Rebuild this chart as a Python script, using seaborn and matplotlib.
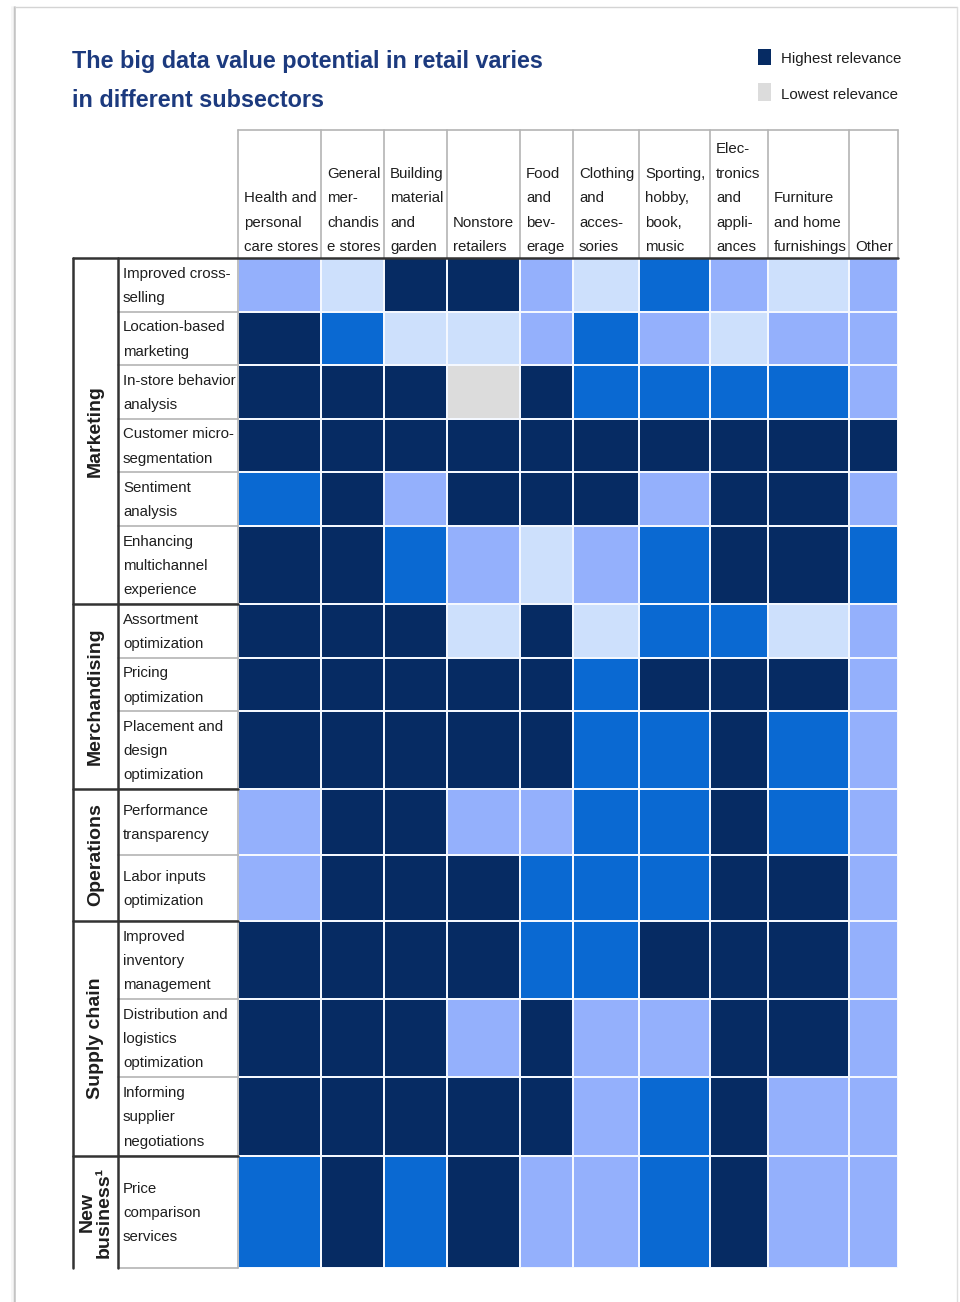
import numpy as np
import matplotlib
matplotlib.use("Agg")
import matplotlib.pyplot as plt
from matplotlib.colors import ListedColormap
from matplotlib.patches import Rectangle
from matplotlib import font_manager
import pandas as pd
import seaborn as sns

# ---------------------------------------------------------------- data
subsectors = [
    "Health and\npersonal\ncare stores",
    "General\nmer-\nchandis\ne stores",
    "Building\nmaterial\nand\ngarden",
    "Nonstore\nretailers",
    "Food\nand\nbev-\nerage",
    "Clothing\nand\nacces-\nsories",
    "Sporting,\nhobby,\nbook,\nmusic",
    "Elec-\ntronics\nand\nappli-\nances",
    "Furniture\nand home\nfurnishings",
    "Other",
]

levers = [
    "Improved cross-\nselling",
    "Location-based\nmarketing",
    "In-store behavior\nanalysis",
    "Customer micro-\nsegmentation",
    "Sentiment\nanalysis",
    "Enhancing\nmultichannel\nexperience",
    "Assortment\noptimization",
    "Pricing\noptimization",
    "Placement and\ndesign\noptimization",
    "Performance\ntransparency",
    "Labor inputs\noptimization",
    "Improved\ninventory\nmanagement",
    "Distribution and\nlogistics\noptimization",
    "Informing\nsupplier\nnegotiations",
    "Price\ncomparison\nservices",
]

lever_groups = ["Marketing", "Merchandising", "Operations", "Supply chain", "New\nbusiness\u00b9"]
group_sizes = [6, 3, 2, 3, 1]

# relevance score: 0 = lowest ... 4 = highest
relevance = [
    [2, 1, 4, 4, 2, 1, 3, 2, 1, 2],
    [4, 3, 1, 1, 2, 3, 2, 1, 2, 2],
    [4, 4, 4, 0, 4, 3, 3, 3, 3, 2],
    [4, 4, 4, 4, 4, 4, 4, 4, 4, 4],
    [3, 4, 2, 4, 4, 4, 2, 4, 4, 2],
    [4, 4, 3, 2, 1, 2, 3, 4, 4, 3],
    [4, 4, 4, 1, 4, 1, 3, 3, 1, 2],
    [4, 4, 4, 4, 4, 3, 4, 4, 4, 2],
    [4, 4, 4, 4, 4, 3, 3, 4, 3, 2],
    [2, 4, 4, 2, 2, 3, 3, 4, 3, 2],
    [2, 4, 4, 4, 3, 3, 3, 4, 4, 2],
    [4, 4, 4, 4, 3, 3, 4, 4, 4, 2],
    [4, 4, 4, 2, 4, 2, 2, 4, 4, 2],
    [4, 4, 4, 4, 4, 2, 3, 4, 2, 2],
    [3, 4, 3, 4, 2, 2, 3, 4, 2, 2],
]

legend_labels = ["Highest relevance", "Lowest relevance"]
title_text = "The big data value potential in retail varies\nin different subsectors"

# ---------------------------------------------------------------- style
level_colors = ["#dcdcdc", "#cde0fc", "#94b0fc", "#0a69d2", "#062b63"]
title_color = "#1c3a7e"
text_color = "#1e1e1e"

sns.set_theme(style="white")
installed = {f.name for f in font_manager.fontManager.ttflist}
families = [f for f in ["Liberation Sans Narrow", "Liberation Sans"] if f in installed]
plt.rcParams["font.family"] = families + ["DejaVu Sans"]

body_size = 10.8
body_spacing = 1.95

# ---------------------------------------------------------------- layout (pixels)
W, H = 960, 1302
col_px = [83, 63, 63, 73, 53, 66, 71, 58, 81, 49]
row_px = [54, 53, 54, 53, 54, 78, 54, 53, 78, 66, 66, 78, 78, 79, 112]
grid_left, grid_top = 238, 258
group_left, label_left = 73, 118
header_top = 130

x_edges = grid_left + np.concatenate([[0], np.cumsum(col_px)])
y_edges = grid_top + np.concatenate([[0], np.cumsum(row_px)])
grid_right, grid_bottom = x_edges[-1], y_edges[-1]

fig = plt.figure(figsize=(W / 100, H / 100), dpi=100)
fig.patch.set_facecolor("white")

# ---------------------------------------------------------------- heatmap
ax = fig.add_axes([grid_left / W, 1 - grid_bottom / H,
                   (grid_right - grid_left) / W, (grid_bottom - grid_top) / H])
df = pd.DataFrame(relevance, index=levers, columns=subsectors)
sns.heatmap(df, ax=ax, cmap=ListedColormap(level_colors), vmin=-0.5, vmax=4.5,
            cbar=False, linewidths=1.3, linecolor="#f4f8ff",
            xticklabels=False, yticklabels=False)

# cells have individual widths / heights: map cell index -> pixel offset
xi = np.arange(len(col_px) + 1)
xo = np.concatenate([[0], np.cumsum(col_px)]).astype(float)
yi = np.arange(len(row_px) + 1)
yo = np.concatenate([[0], np.cumsum(row_px)]).astype(float)
ax.set_xscale("function", functions=(lambda v: np.interp(v, xi, xo),
                                     lambda p: np.interp(p, xo, xi)))
ax.set_yscale("function", functions=(lambda v: np.interp(v, yi, yo),
                                     lambda p: np.interp(p, yo, yi)))
ax.set_xlim(0, len(col_px))
ax.set_ylim(len(row_px), 0)
ax.set_axis_off()

# ---------------------------------------------------------------- overlay in pixel coordinates
ov = fig.add_axes([0, 0, 1, 1])
ov.set_xlim(0, W)
ov.set_ylim(H, 0)
ov.set_axis_off()

# page frame with a soft shadow
for off, a in [(0, 0.55), (1.5, 0.25), (3, 0.10)]:
    ov.plot([15 - off, 15 - off], [7, H], color="#9a9a9a", alpha=a, lw=1.2)
ov.plot([15, 957], [7, 7], color="#d4d4d4", lw=1.0)
ov.plot([957, 957], [7, H], color="#dedede", lw=1.0)

# title
for k, line in enumerate(title_text.split("\n")):
    ov.text(72, 68 + 39 * k, line, color=title_color, fontsize=16.8,
            fontweight="bold", ha="left", va="baseline")

# legend
ov.add_patch(Rectangle((758, 49), 13, 16, facecolor=level_colors[-1], edgecolor="none"))
ov.add_patch(Rectangle((758, 83), 13, 18, facecolor=level_colors[0], edgecolor="none"))
ov.text(781, 59, legend_labels[0], fontsize=10.8, color=text_color, ha="left", va="center")
ov.text(781, 95, legend_labels[1], fontsize=10.8, color=text_color, ha="left", va="center")

# header frame and column labels
light = "#b4b4b4"
ov.plot([grid_left, grid_right], [header_top, header_top], color=light, lw=1.2)
for x in x_edges:
    ov.plot([x, x], [header_top, grid_top], color=light, lw=1.2)
for i, name in enumerate(subsectors):
    ov.text(x_edges[i] + 6, grid_top - 4, name, fontsize=body_size, color=text_color,
            ha="left", va="bottom", linespacing=body_spacing)

# row labels
ov.plot([grid_left, grid_left], [grid_top, grid_bottom], color=light, lw=1.2)
for j, name in enumerate(levers):
    ov.plot([label_left, grid_left], [y_edges[j + 1], y_edges[j + 1]], color=light, lw=1.2)
    ov.text(label_left + 5, (y_edges[j] + y_edges[j + 1]) / 2 + 1, name, fontsize=body_size,
            color=text_color, ha="left", va="center", linespacing=body_spacing)

# lever groups
dark = "#333333"
ov.plot([group_left, group_left], [grid_top, grid_bottom], color=dark, lw=1.8)
ov.plot([label_left, label_left], [grid_top, grid_bottom], color=dark, lw=1.8)
ov.plot([group_left, grid_right], [grid_top, grid_top], color=dark, lw=1.8)
start = 0
for g, n in zip(lever_groups, group_sizes):
    y0, y1 = y_edges[start], y_edges[start + n]
    if start > 0:
        ov.plot([group_left, grid_left], [y0, y0], color=dark, lw=1.8)
    ov.text((group_left + label_left) / 2, (y0 + y1) / 2, g, rotation=90,
            fontsize=14, fontweight="bold", color=text_color,
            ha="center", va="center", multialignment="center", linespacing=1.0)
    start += n

fig.savefig("out.png", dpi=100, facecolor="white")
